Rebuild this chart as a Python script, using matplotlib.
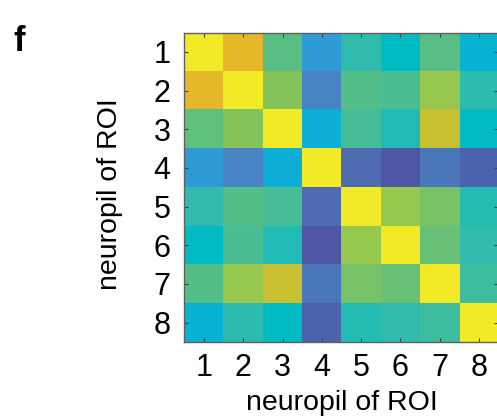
"""Neuropil correlation heatmap (panel f)."""

import matplotlib
matplotlib.use("Agg")
import matplotlib.pyplot as plt
import numpy as np
from matplotlib.colors import LinearSegmentedColormap

plt.rcParams["font.family"] = ["Liberation Sans", "DejaVu Sans"]

# ── data ─────────────────────────────────────────────────────────────────────
roi_labels = ["1", "2", "3", "4", "5", "6", "7", "8"]

corr_values = [
    [1.00, 0.88, 0.57, 0.24, 0.48, 0.40, 0.57, 0.33],
    [0.88, 1.00, 0.64, 0.16, 0.56, 0.54, 0.70, 0.47],
    [0.58, 0.64, 1.00, 0.31, 0.53, 0.45, 0.80, 0.40],
    [0.24, 0.16, 0.31, 1.00, 0.08, 0.00, 0.12, 0.05],
    [0.48, 0.56, 0.53, 0.08, 1.00, 0.70, 0.62, 0.46],
    [0.40, 0.54, 0.45, 0.00, 0.70, 1.00, 0.59, 0.48],
    [0.56, 0.70, 0.80, 0.12, 0.62, 0.59, 1.00, 0.51],
    [0.33, 0.47, 0.40, 0.05, 0.46, 0.48, 0.51, 1.00],
]

# washed-out parula, as it appears in the figure
_anchors = [
    (0.00, "#5056a6"), (0.08, "#4c6cb2"), (0.16, "#4884c4"),
    (0.24, "#2e9cd8"), (0.32, "#0ab2d6"), (0.40, "#00bac4"),
    (0.48, "#32bcac"), (0.56, "#54be8a"), (0.64, "#84c45a"),
    (0.70, "#96c850"), (0.80, "#c8c030"), (0.88, "#e4b82a"),
    (1.00, "#f2ea26"),
]
cmap = LinearSegmentedColormap.from_list("parula_print", _anchors)

# ── plot ─────────────────────────────────────────────────────────────────────
fig = plt.figure(figsize=(4.97, 4.17), dpi=100)
ax = fig.add_axes([0.371, 0.180, 0.632, 0.742])

ax.imshow(np.array(corr_values), cmap=cmap, vmin=0, vmax=1,
          aspect="auto", interpolation="nearest")

ticks = np.arange(len(roi_labels))
ax.set_xticks(ticks)
ax.set_yticks(ticks)
ax.set_xticklabels(roi_labels, fontsize=22)
ax.set_yticklabels(roi_labels, fontsize=22)
ax.tick_params(direction="in", length=3, width=0.8, color="#404040",
               top=True, right=True)
ax.tick_params(axis="x", pad=8)
ax.tick_params(axis="y", pad=10)
for spine in ax.spines.values():
    spine.set_color("#606060")
    spine.set_linewidth(1.0)

ax.set_xlabel("neuropil of ROI", fontsize=20.5, labelpad=5)
ax.set_ylabel("neuropil of ROI", fontsize=20.5)
ax.yaxis.set_label_coords(-0.195, 0.477)

fig.text(0.026, 0.878, "f", fontsize=25, fontweight="bold")

fig.savefig("out.png", dpi=100)
plt.close(fig)
